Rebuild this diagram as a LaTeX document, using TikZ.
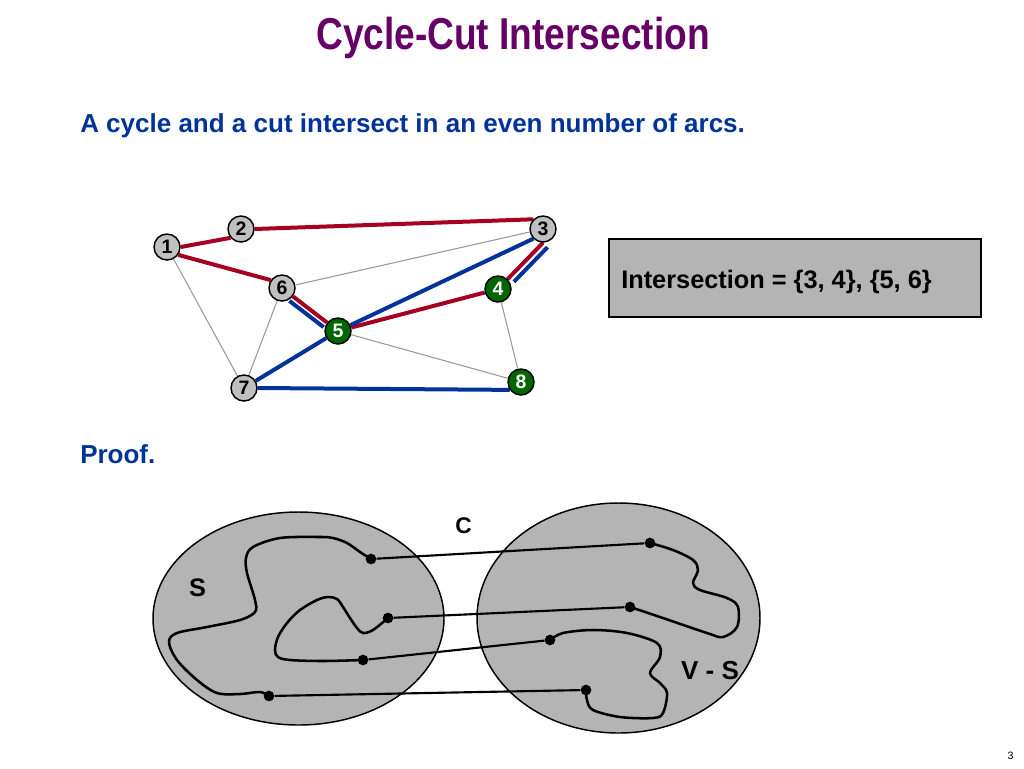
\documentclass[tikz,border=0pt]{standalone}
\usepackage{fontspec}
\setmainfont{Liberation Sans}
\usetikzlibrary{backgrounds}
\definecolor{titlepurple}{HTML}{660066}
\definecolor{textblue}{HTML}{003399}
\definecolor{cycred}{HTML}{A50021}
\definecolor{cutblue}{HTML}{003399}
\definecolor{nodegreen}{HTML}{006600}
\definecolor{nodegray}{HTML}{C0C0C0}
\definecolor{regiongray}{HTML}{B4B4B4}
\definecolor{thingray}{HTML}{999999}
\begin{document}
\begin{tikzpicture}[x=0.75pt,y=-0.75pt,
  gnode/.style={circle,draw=black,line width=1.1pt,fill=nodegray,minimum size=19.5pt,inner sep=0pt,
    font=\fontsize{14.6pt}{15pt}\selectfont\bfseries,text=black},
  vnode/.style={gnode,fill=nodegreen,text=white},
  cyc/.style={draw=cycred,line width=3pt},
  cutl/.style={draw=cutblue,line width=3pt},
  thin/.style={draw=thingray,line width=0.8pt},
  dot/.style={circle,fill=black,minimum size=8pt,inner sep=0pt},
  link/.style={draw=black,line width=1.6pt},
  curve/.style={draw=black,line width=1.9pt,line cap=round,line join=round},
  region/.style={draw=black,line width=1.1pt,fill=regiongray},
  lab/.style={anchor=base,font=\fontsize{19pt}{20pt}\selectfont\bfseries,text=black}
]
\useasboundingbox (0,0) rectangle (1024,768);

% title and texts
\node[anchor=base,text=titlepurple,inner sep=0pt] (title) at (513,49)
  {\scalebox{0.83}[1]{\fontsize{33.5pt}{36pt}\selectfont\bfseries Cycle-Cut Intersection}};
\node[anchor=base west,text=textblue,inner sep=0pt,font=\fontsize{19.5pt}{21pt}\selectfont\bfseries] (claim) at (80,132)
  {A cycle and a cut intersect in an even number of arcs.};
\node[anchor=base west,text=textblue,inner sep=0pt,font=\fontsize{19.5pt}{21pt}\selectfont\bfseries] (proof) at (80,463)
  {Proof.};

% intersection box
\draw[line width=1.1pt,fill=regiongray] (609,239) rectangle (981,317);
\node[anchor=base west,inner sep=0pt,font=\fontsize{19pt}{20pt}\selectfont\bfseries] (inter) at (621,288)
  {Intersection = \{3, 4\}, \{5, 6\}};

% graph nodes
\node[gnode] (n1) at (167,247) {1};
\node[gnode] (n2) at (241,229) {2};
\node[gnode] (n3) at (543,229) {3};
\node[gnode] (n6) at (282,288) {6};
\node[vnode] (n4) at (498,289) {4};
\node[vnode] (n5) at (338,331) {5};
\node[gnode] (n7) at (244,388) {7};
\node[vnode] (n8) at (521,382) {8};

\begin{scope}[on background layer]
  \draw[thin] (n1) -- (n7);
  \draw[thin] (n6) -- (n7);
  \draw[thin] (n6) -- (n3);
  \draw[thin] (n5) -- (n8);
  \draw[thin] (n4) -- (n8);
  \draw[cyc] (n1.east) -- (n2.220);
  \draw[cyc] (n2.east) -- (n3.135);
  \draw[cyc] (n1.-35) -- (n6.145);
  \draw[cyc] (n6) -- (n5);
  \draw[cyc] (n5) -- (n4);
  \draw[cyc] (n4) -- (n3.south);
  \draw[cutl] (n5) -- (n3.225);
  \draw[cutl] (n5) -- (n7);
  \draw[cutl] (n7.east) -- (n8.215);
  \draw[cutl,transform canvas={shift={(-3.5,4.5)}}] (n6) -- (n5);
  \draw[cutl,transform canvas={shift={(4.5,4.5)}},shorten <=2pt] (n4) -- (n3.south);
\end{scope}

% proof picture
\draw[region] (298.5,618.5) ellipse [x radius=145.5, y radius=106.5];
\draw[region] (618.5,618) ellipse [x radius=141.5, y radius=115];

\draw[curve] plot[smooth,tension=0.55] coordinates {
  (371,559) (360,552) (347,543) (333,538) (320,537) (280,538) (253,547) (246,558)
  (247,573) (255,600) (255,612) (240,620) (207,627) (177,633) (169,642) (177,660)
  (197,680) (217,693) (240,694) (260,692) (269,696)};
\draw[curve] plot[smooth,tension=0.55] coordinates {
  (388,618) (373,630) (363,633) (357,628) (350,618) (343,607) (337,599) (328,597)
  (317,600) (300,610) (287,623) (278,637) (275,650) (278,657) (290,660) (323,661) (363,660)};
\draw[curve] plot[smooth,tension=0.55] coordinates {
  (650,543) (673,550) (693,560) (698,570) (693,583) (700,590) (727,598) (738,607)
  (737,627) (723,637) (707,633) (660,617) (630,607)};
\draw[curve] plot[smooth,tension=0.55] coordinates {
  (550,640) (563,633) (593,630) (627,633) (657,643) (660,657) (650,673) (660,683)
  (667,693) (663,713) (653,718) (620,717) (593,710) (587,700) (586,690)};

\node[dot] (a1) at (371,559) {};
\node[dot] (a2) at (388,618) {};
\node[dot] (a3) at (363,660) {};
\node[dot] (a4) at (269,696) {};
\node[dot] (b1) at (650,543) {};
\node[dot] (b2) at (630,607) {};
\node[dot] (b3) at (550,640) {};
\node[dot] (b4) at (586,690) {};
\draw[link] (a1) -- (b1);
\draw[link] (a2) -- (b2);
\draw[link] (a3) -- (b3);
\draw[link] (a4) -- (b4);

\node[lab,font=\fontsize{17pt}{18pt}\selectfont\bfseries] (clab) at (463.5,533) {C};
\node[lab] (slab) at (197.5,596) {S};
\node[lab,font=\fontsize{19.5pt}{20pt}\selectfont\bfseries] (vslab) at (710,679) {V - S};

\node[anchor=base,inner sep=0pt,font=\fontsize{8pt}{9pt}\selectfont] (pnum) at (1010.5,759) {3};
\end{tikzpicture}
\end{document}
